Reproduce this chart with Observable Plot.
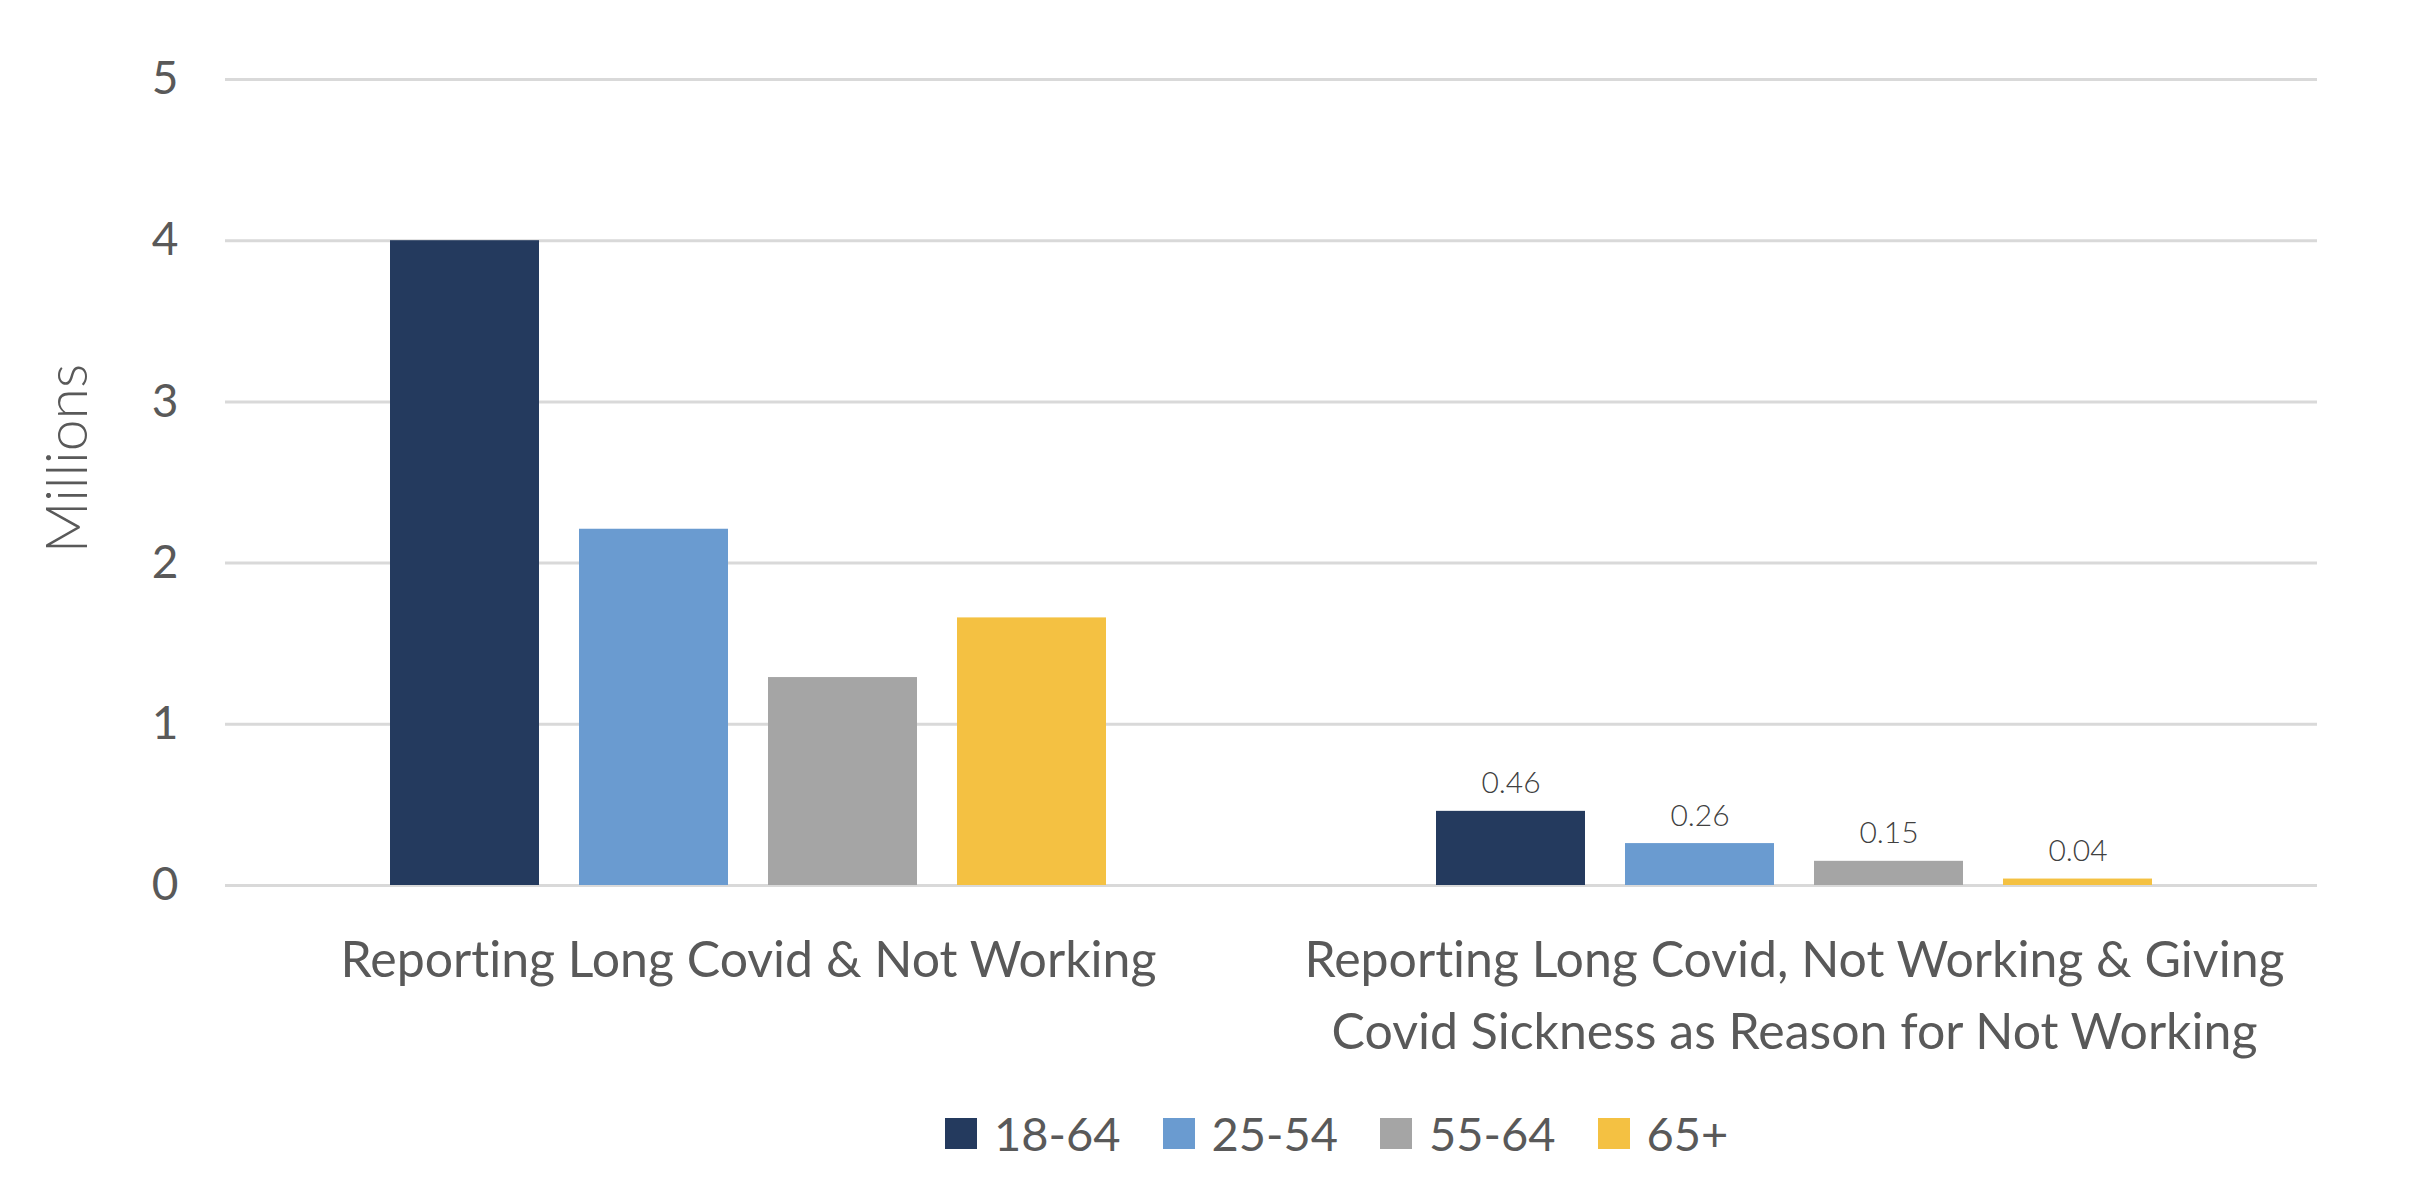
<!DOCTYPE html>
<html><head><meta charset="utf-8">
<script src="https://cdn.jsdelivr.net/npm/d3@7"></script>
<script src="https://cdn.jsdelivr.net/npm/@observablehq/plot@0.6"></script>
<style>
html,body{margin:0;padding:0;background:#fff;}
#chart{position:relative;width:2422px;height:1186px;overflow:hidden;font-variant-ligatures:none;}
#chart svg text{font-variant-ligatures:none;font-feature-settings:"liga" 0,"clig" 0,"dlig" 0;}
#legend{position:absolute;top:1110px;left:945px;display:flex;align-items:center;font-family:Lato,sans-serif;font-size:47px;color:#595959;line-height:1;}
.item{display:flex;align-items:center;margin-right:42px;}
.sw{width:32px;height:31px;margin-right:17px;}
</style></head><body><div id="chart"></div>
<script>
const categories = ["Reporting Long Covid & Not Working", "Reporting Long Covid, Not Working & Giving Covid Sickness as Reason for Not Working"];
const categoryLabels = ["Reporting Long Covid & Not Working", "Reporting Long Covid, Not Working & Giving\nCovid Sickness as Reason for Not Working"];
const ageGroups = ["18-64", "25-54", "55-64", "65+"];
const notWorking = [4.0, 2.21, 1.29, 1.66];
const covidReason = [0.46, 0.26, 0.15, 0.04];
const colors = ["#243A5E", "#6A9BD0", "#A5A5A5", "#F4C142"];
const yTicks = [0, 1, 2, 3, 4, 5];
const yLabel = "Millions";

const rows = [
  ...ageGroups.map((a, i) => ({cat: categories[0], age: a, value: notWorking[i]})),
  ...ageGroups.map((a, i) => ({cat: categories[1], age: a, value: covidReason[i]}))
];
const labelRows = ageGroups.map((a, i) => ({cat: categories[1], age: a, value: covidReason[i]}));

const plot = Plot.plot({
  width: 2422,
  height: 1080,
  marginLeft: 224,
  marginRight: 105,
  marginTop: 79,
  marginBottom: 195,
  style: {fontFamily: "Lato, sans-serif", fontSize: "46px", color: "#595959", background: "transparent", overflow: "visible"},
  fx: {domain: categories, padding: 0, axis: null},
  x: {domain: ageGroups, paddingInner: 0.21, paddingOuter: 0.86, axis: null},
  y: {domain: [0, 5], axis: null},
  color: {domain: ageGroups, range: colors},
  marks: [
    Plot.gridY(yTicks, {stroke: "#D9D9D9", strokeOpacity: 1, strokeWidth: 3}),
    Plot.axisY(yTicks, {tickSize: 0, tickPadding: 47, fontSize: 46, fill: "#595959", label: null, tickFormat: d => String(d)}),
    Plot.barY(rows, {fx: "cat", x: "age", y: "value", fill: "age"}),
    Plot.text(labelRows, {fx: "cat", x: "age", y: "value", text: d => d.value.toFixed(2), lineAnchor: "bottom", dy: -18, fontSize: 30, fontWeight: 300, fill: "#404040"}),
    Plot.text(categories, {fx: d => d, text: d => categoryLabels[categories.indexOf(d)], frameAnchor: "bottom", lineAnchor: "top", dy: 40, lineHeight: 1.45, fontSize: 50, letterSpacing: "1.7px", fill: "#595959"}),
    Plot.text([yLabel], {fx: () => categories[0], text: d => d, frameAnchor: "left", textAnchor: "middle", rotate: -90, dx: -157, dy: -24, fontSize: 57, fontWeight: 300, fill: "#595959"})
  ]
});
const chart = document.getElementById("chart");
chart.appendChild(plot);

const legend = document.createElement("div");
legend.id = "legend";
ageGroups.forEach((a, i) => {
  const item = document.createElement("div");
  item.className = "item";
  const sw = document.createElement("div");
  sw.className = "sw";
  sw.style.background = colors[i];
  const t = document.createElement("span");
  t.textContent = a;
  item.appendChild(sw);
  item.appendChild(t);
  legend.appendChild(item);
});
chart.appendChild(legend);
</script>
</body></html>
